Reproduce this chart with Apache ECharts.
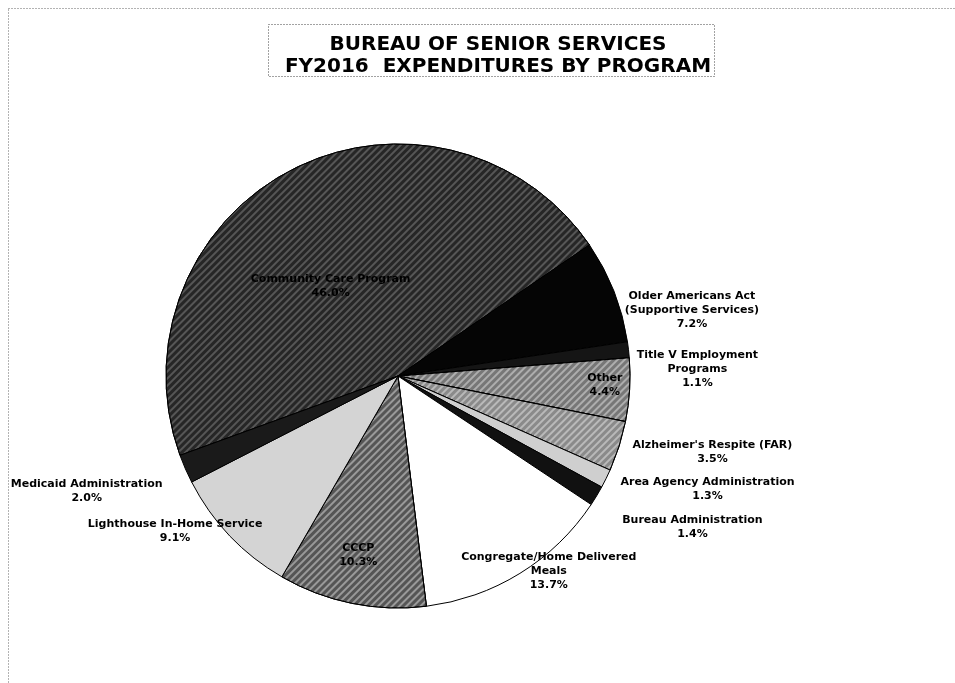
<!DOCTYPE html>
<html>
<head>
<meta charset="utf-8">
<script src="https://cdn.jsdelivr.net/npm/echarts@6/dist/echarts.min.js"></script>
<style>
html, body { margin: 0; padding: 0; background: #fff; }
#main { width: 955px; height: 683px; }
</style>
</head>
<body>
<div id="main"></div>
<script>
// programs, clockwise from the Medicaid boundary on the left
var programs = [
  'Community Care Program',
  'Older Americans Act\n(Supportive Services)',
  'Title V Employment\nPrograms',
  'Other',
  "Alzheimer's Respite (FAR)",
  'Area Agency Administration',
  'Bureau Administration',
  'Congregate/Home Delivered\nMeals',
  'CCCP',
  'Lighthouse In-Home Service',
  'Medicaid Administration'
];
var percents = [46.0, 7.2, 1.1, 4.4, 3.5, 1.3, 1.4, 13.7, 10.3, 9.1, 2.0];

var fills = ['#262626', '#050505', '#151515', '#777777', '#8a8a8a', '#cfcfcf', '#111111', '#ffffff', '#555555', '#d4d4d4', '#1a1a1a'];
var hatched = [true, false, false, true, true, false, false, false, true, false, false];
var inside = [true, false, false, true, false, false, false, false, true, false, false];
// nudges so each label sits where the original put it
var labelShift = [[-13, 16], [39, 24], [29, 21], [88, 2], [54, 1], [63, 4], [58, 23], [-4, -15], [-16, 63], [-19, -15], [-60, 16]];

var myChart = echarts.init(document.getElementById('main'));

var data = programs.map(function (name, i) {
  var item = {
    name: name,
    value: percents[i],
    itemStyle: { color: fills[i] }
  };
  if (hatched[i]) {
    item.itemStyle.decal = {
      symbol: 'rect',
      color: i === 0 ? 'rgba(255,255,255,0.22)' : 'rgba(255,255,255,0.4)',
      dashArrayX: [1, 0],
      dashArrayY: [2, 3],
      rotation: -Math.PI / 4
    };
  }
  if (inside[i]) {
    item.label = { position: 'inside', color: '#000' };
  }
  return item;
});

var option = {
  animation: false,
  backgroundColor: '#fff',
  title: {
    text: 'BUREAU OF SENIOR SERVICES\nFY2016  EXPENDITURES BY PROGRAM',
    left: 493,
    textAlign: 'center',
    top: 29,
    textStyle: {
      fontFamily: 'DejaVu Sans, sans-serif',
      fontSize: 20,
      fontWeight: 'bold',
      color: '#000',
      lineHeight: 22
    }
  },
  graphic: [
    {
      type: 'rect',
      shape: { x: 8.5, y: 8.5, width: 960, height: 700 },
      style: { fill: null, stroke: '#666', lineWidth: 1, lineDash: [1, 2] }
    },
    {
      type: 'rect',
      shape: { x: 268.5, y: 24.5, width: 446, height: 52 },
      style: { fill: null, stroke: '#444', lineWidth: 1, lineDash: [1, 2] }
    }
  ],
  series: [{
    name: 'Expenditures',
    type: 'pie',
    center: [398, 376],
    radius: 232,
    startAngle: 200,
    clockwise: true,
    avoidLabelOverlap: false,
    itemStyle: { borderColor: '#000', borderWidth: 1 },
    label: {
      show: true,
      position: 'outside',
      formatter: function (p) { return p.name + '\n' + p.value.toFixed(1) + '%'; },
      fontFamily: 'DejaVu Sans, sans-serif',
      fontSize: 11,
      fontWeight: 'bold',
      color: '#000',
      lineHeight: 14
    },
    labelLine: { show: false, length: 15, length2: 20 },
    labelLayout: function (params) {
      var s = labelShift[params.dataIndex];
      return { hideOverlap: false, align: 'center', dx: s[0], dy: s[1] };
    },
    emphasis: { disabled: true },
    data: data
  }]
};

myChart.setOption(option);
</script>
</body>
</html>
